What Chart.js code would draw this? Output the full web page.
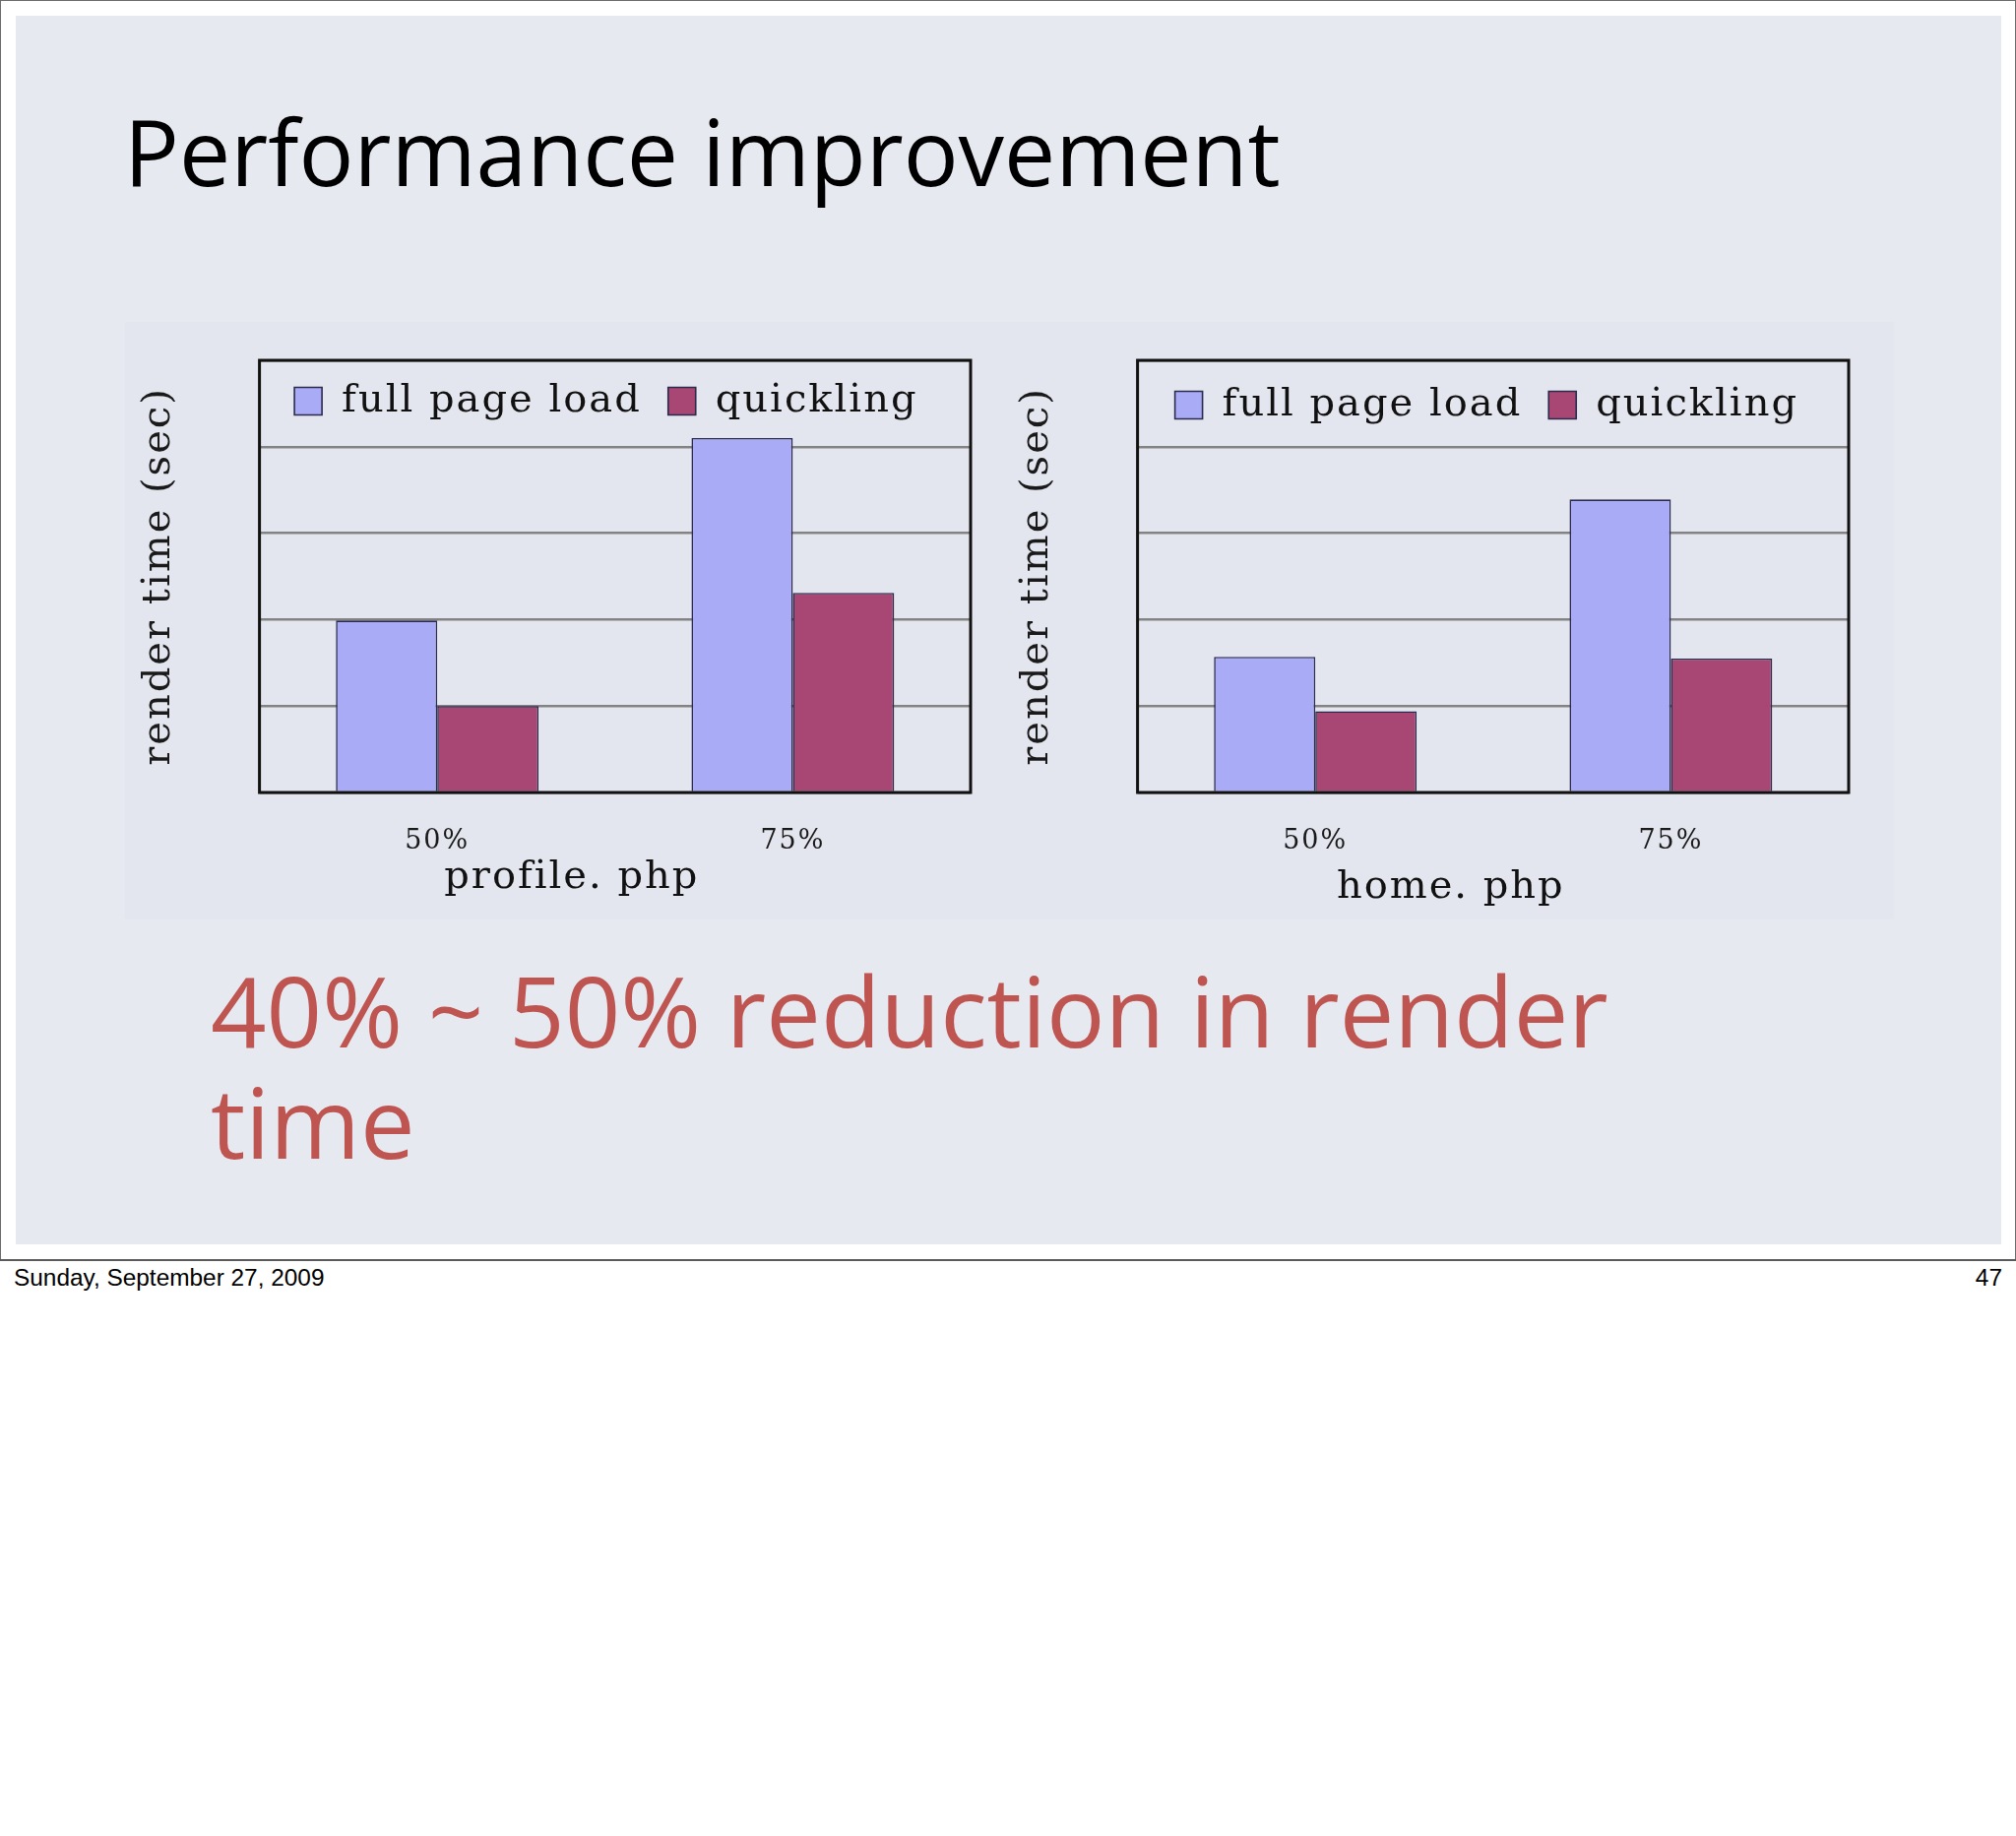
<!DOCTYPE html>
<html>
<head>
<meta charset="utf-8">
<script src="https://cdn.jsdelivr.net/npm/chart.js@4.4.1/dist/chart.umd.min.js"></script>
<style>
html, body { margin: 0; padding: 0; background: #ffffff; }
body { width: 2048px; height: 1865px; position: relative; overflow: hidden; }
.abs { position: absolute; }
#slide { left: 0; top: 0; width: 2048px; height: 1280px; box-sizing: border-box; border: 1px solid #6b6b6b; border-bottom: none; background: #ffffff; }
#bottomline { left: 0; top: 1279px; width: 2048px; height: 2px; background: #5a5a5a; }
#inner { left: 16px; top: 16px; width: 2017px; height: 1248px; background: #E6E9F0; }
#chartbg { left: 127px; top: 327px; width: 1797px; height: 607px; background: #E3E6EE; }
#title { left: 126px; top: 107px; font-family: "Open Sans"; font-size: 93px; line-height: 93px; color: #000; white-space: nowrap; }
#note { left: 214px; top: 969px; font-family: "Open Sans"; font-size: 99px; line-height: 113px; color: #BF5550; white-space: nowrap; }
#date { left: 14px; top: 1286px; font-family: "Liberation Sans"; font-size: 24.4px; line-height: 24px; color: #000; white-space: nowrap; }
#pagenum { right: 14px; top: 1286px; font-family: "Liberation Sans"; font-size: 24.4px; line-height: 24px; color: #000; }
canvas.abs { top: 330px; }
</style>
</head>
<body>
<div id="slide" class="abs"></div>
<div id="inner" class="abs"></div>
<div id="chartbg" class="abs"></div>
<div id="bottomline" class="abs"></div>
<div id="title" class="abs">Performance improvement</div>
<div id="note" class="abs">40% ~ 50% reduction in render<br>time</div>
<div id="date" class="abs">Sunday, September 27, 2009</div>
<div id="pagenum" class="abs">47</div>
<canvas id="profileChart" class="abs" width="890" height="610" style="left:120px;"></canvas>
<canvas id="homeChart" class="abs" width="890" height="610" style="left:1012px;"></canvas>
<script>
// ---- data ----
const categories = ['50%', '75%'];
const seriesNames = ['full page load', 'quickling'];
const profileFullLoad = [1.99, 4.1];
const profileQuickling = [1.0, 2.31];
const homeFullLoad = [1.57, 3.39];
const homeQuickling = [0.94, 1.55];
const yAxisTitle = 'render time (sec)';
const profileAxisTitle = 'profile. php';
const homeAxisTitle = 'home. php';
const yMin = 0;
const yMax = 5;
const yStep = 1;

// ---- styling ----
const FAM = '"DejaVu Serif", serif';
const fullColor = '#AAABF7';
const quickColor = '#A84674';
const barBorder = '#2A2A4C';

const chartPlugin = {
  id: 'slideChart',
  beforeLayout(chart) { chart.ctx.letterSpacing = '2px'; },
  afterLayout(chart, args, opts) {
    const ca = chart.chartArea;
    const lg = chart.legend;
    if (lg) {
      lg.left = ca.left + opts.boxX - opts.pad;
      lg.top = ca.top + opts.boxY - (opts.fontSize - opts.boxH) / 2 - opts.pad;
      lg.right = chart.width;
      lg.bottom = ca.top + 120;
      lg.width = lg.right - lg.left;
      lg.height = lg.bottom - lg.top;
    }
    // shift the x-axis title horizontally (title only; tick pixels are already configured)
    const xs = chart.scales.x;
    if (xs && opts.xTitleShift) {
      xs.left += opts.xTitleShift;
      xs.right += opts.xTitleShift;
    }
  },
  beforeDraw(chart) { chart.ctx.letterSpacing = '2px'; },
  afterDraw(chart, args, opts) {
    const ctx = chart.ctx, ca = chart.chartArea;
    ctx.save();
    ctx.strokeStyle = opts.frameColor;
    ctx.lineWidth = opts.frameWidth;
    ctx.strokeRect(ca.left, ca.top, ca.right - ca.left, ca.bottom - ca.top);
    ctx.restore();
  }
};

function makeChart(id, xTitle, fullVals, quickVals, lay) {
  const canvasH = 610;
  const areaTop = 36, areaBottom = 475;
  const tickSize = 27, tickPad = 34, titleSize = 40;
  const scaleH = tickSize * 1.2 + 2 * tickPad + titleSize * 1.2 + lay.titleTop;
  const padBottom = canvasH - areaBottom - scaleH;
  new Chart(document.getElementById(id), {
    type: 'bar',
    data: {
      labels: categories,
      datasets: [
        { label: seriesNames[0], data: fullVals, backgroundColor: fullColor, borderColor: barBorder, borderWidth: 1.6,
          categoryPercentage: 0.57, barPercentage: 1.0 },
        { label: seriesNames[1], data: quickVals, backgroundColor: quickColor, borderColor: barBorder, borderWidth: 1.6,
          categoryPercentage: 0.57, barPercentage: 1.0 }
      ]
    },
    options: {
      responsive: false,
      animation: false,
      events: [],
      layout: { padding: { left: 14, right: 24, top: areaTop - 1, bottom: padBottom } },
      plugins: {
        tooltip: { enabled: false },
        legend: {
          display: true,
          position: 'top',
          align: 'start',
          maxHeight: 1,
          labels: { boxWidth: 28, boxHeight: 28, padding: 27, color: '#111',
                    font: { family: FAM, size: 40, lineHeight: 1.2 } }
        },
        slideChart: { boxX: lay.boxX, boxY: lay.boxY, pad: 27, fontSize: 40, boxH: 28,
                      xTitleShift: lay.xShift, frameColor: '#111', frameWidth: 3 }
      },
      scales: {
        x: {
          grid: { display: false, drawTicks: false },
          border: { display: false },
          ticks: { color: '#1a1a1a', padding: tickPad, font: { family: FAM, size: tickSize, lineHeight: 1.2 } },
          title: { display: true, text: xTitle, color: '#111', padding: { top: lay.titleTop, bottom: 0 },
                   font: { family: FAM, size: titleSize, lineHeight: 1.2 } }
        },
        y: {
          min: yMin, max: yMax,
          grid: { color: '#838383', lineWidth: 2.5, drawTicks: false },
          border: { display: false },
          ticks: { display: false, stepSize: yStep },
          title: { display: true, text: yAxisTitle, color: '#1a1a1a', padding: { top: 4, bottom: 77.6 },
                   font: { family: FAM, size: titleSize, lineHeight: 1.2 } }
        }
      }
    },
    plugins: [chartPlugin]
  });
}

makeChart('profileChart', profileAxisTitle, profileFullLoad, profileQuickling, { titleTop: -38, boxX: 35.5, boxY: 27.5, xShift: -44 });
makeChart('homeChart', homeAxisTitle, homeFullLoad, homeQuickling, { titleTop: -28, boxX: 38, boxY: 31.5, xShift: -43 });
</script>
</body>
</html>
